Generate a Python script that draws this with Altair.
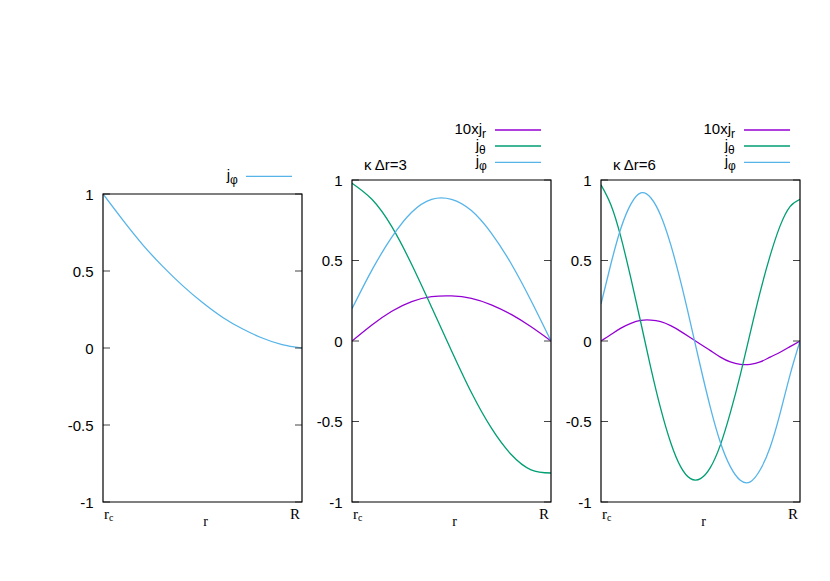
import altair as alt
import pandas as pd

# ---------------- data ----------------
T10 = [i / 10 for i in range(11)]
T20 = [i / 20 for i in range(21)]

P1_JPHI = [1.0, 0.83, 0.67, 0.53, 0.405, 0.295, 0.20, 0.125, 0.065, 0.022, 0.0]

P2_JR10 = [0.0, 0.10, 0.185, 0.245, 0.275, 0.28, 0.265, 0.225, 0.165, 0.088, 0.0]
P2_JTH = [0.98, 0.88, 0.71, 0.475, 0.21, -0.06, -0.32, -0.54, -0.705, -0.80, -0.82]
P2_JPHI = [0.20, 0.44, 0.645, 0.80, 0.88, 0.88, 0.81, 0.67, 0.48, 0.25, 0.0]

P3_JR10 = [0.0, 0.04, 0.08, 0.11, 0.128, 0.13, 0.12, 0.095, 0.06, 0.02, -0.02,
           -0.06, -0.10, -0.13, -0.145, -0.145, -0.13, -0.10, -0.07, -0.035, 0.0]
P3_JTH = [0.97, 0.845, 0.645, 0.39, 0.115, -0.165, -0.42, -0.63, -0.78, -0.855, -0.855,
          -0.785, -0.645, -0.445, -0.21, 0.05, 0.305, 0.53, 0.715, 0.835, 0.88]
P3_JPHI = [0.23, 0.48, 0.70, 0.85, 0.92, 0.89, 0.78, 0.60, 0.37, 0.11, -0.16,
           -0.415, -0.63, -0.78, -0.865, -0.875, -0.80, -0.66, -0.45, -0.21, 0.0]

YTICKS = [-1, -0.5, 0, 0.5, 1]
SERIES = ["10xj_r", "j_theta", "j_phi"]
COLORS = ["#9400D3", "#009E73", "#56B4E9"]
LEG_MAIN = {"10xj_r": "10xj", "j_theta": "j", "j_phi": "j"}
LEG_SUB = {"10xj_r": "r", "j_theta": "θ", "j_phi": "φ"}
TITLES = ["", "κ Δr=3", "κ Δr=6"]

# ---------------- layout ----------------
W = 199
H = 322
FONT = "Liberation Sans"
SERIF = "Liberation Serif"
ONE = pd.DataFrame({"a": [0]})


def curves(t, series):
    rows = []
    for name, vals in series.items():
        for tt, v in zip(t, vals):
            rows.append({"t": tt, "v": v, "s": name})
    return pd.DataFrame(rows)


def txt(text, x, y, size=15, font=FONT, align="left", color="black"):
    return alt.Chart(ONE).mark_text(
        text=text, font=font, fontSize=size, align=align, baseline="alphabetic", color=color
    ).encode(x=alt.value(x), y=alt.value(y))


def panel(df, names, ymax, frame_top, legend_rows, title):
    yscale = alt.Scale(domain=[-1, ymax], nice=False, zero=False)
    xscale = alt.Scale(domain=[0, 1], nice=False, zero=False)
    ticks = pd.DataFrame({"v": YTICKS})

    lines = alt.Chart(df).mark_line(strokeWidth=1.3, interpolate="natural", clip=True).encode(
        x=alt.X("t:Q", scale=xscale, axis=None),
        y=alt.Y("v:Q", scale=yscale, axis=alt.Axis(
            values=YTICKS, domain=False, ticks=False, tickSize=0, grid=False,
            labelFont=FONT, labelFontSize=15, labelColor="black", labelPadding=10,
            labelExpr="'' + datum.value", title=None)),
        color=alt.Color("s:N", scale=alt.Scale(domain=SERIES, range=COLORS), legend=None),
        detail="s:N",
    )
    lt = alt.Chart(ticks).mark_rule(color="#444", strokeWidth=1).encode(
        y=alt.Y("v:Q", scale=yscale), x=alt.value(0), x2=alt.value(7))
    rt = alt.Chart(ticks).mark_rule(color="#444", strokeWidth=1).encode(
        y=alt.Y("v:Q", scale=yscale), x=alt.value(W - 7), x2=alt.value(W))
    frame = alt.Chart(ONE).mark_rect(fillOpacity=0, stroke="black", strokeWidth=1.2).encode(
        x=alt.value(0), x2=alt.value(W), y=alt.value(frame_top), y2=alt.value(H))

    layers = [lines, lt, rt, frame]
    # x labels
    layers += [
        txt("r", 1, H + 16.5, size=15, font=SERIF),
        txt("c", 6, H + 19, size=10, font=SERIF),
        txt("R", W - 2, H + 16.5, size=15, font=SERIF, align="right"),
        txt("r", W / 2 + 3, H + 24, size=14, font=SERIF, align="center"),
    ]
    # legend
    for name, ly in zip(names, legend_rows):
        color = COLORS[SERIES.index(name)]
        layers.append(alt.Chart(ONE).mark_rule(color=color, strokeWidth=1.3).encode(
            x=alt.value(W - 56), x2=alt.value(W - 10), y=alt.value(ly)))
        main_end = W - 69 if name == "10xj_r" else W - 72
        layers.append(txt(LEG_MAIN[name], main_end, ly + 4, size=15, align="right"))
        layers.append(txt(LEG_SUB[name], main_end, ly + 8, size=12, align="left"))
    if title:
        layers.append(txt(title, 12, -10, size=15))
    return alt.layer(*layers).properties(width=W, height=H)


p1 = panel(curves(T10, {"j_phi": P1_JPHI}), ["j_phi"], 1 + 14 / 154, 14, [-3.7], TITLES[0])
p2 = panel(curves(T10, {"10xj_r": P2_JR10, "j_theta": P2_JTH, "j_phi": P2_JPHI}),
           SERIES, 1, 0, [-50, -34, -17.7], TITLES[1])
p3 = panel(curves(T20, {"10xj_r": P3_JR10, "j_theta": P3_JTH, "j_phi": P3_JPHI}),
           SERIES, 1, 0, [-50, -34, -17.7], TITLES[2])

chart = alt.hconcat(p1, p2, p3, spacing=50, bounds="flush").properties(
    padding={"left": 59, "top": 114, "right": 5, "bottom": 5}
).configure(background="white").configure_view(stroke=None)

chart.save("out.html", embed_options={"renderer": "svg", "actions": False})
